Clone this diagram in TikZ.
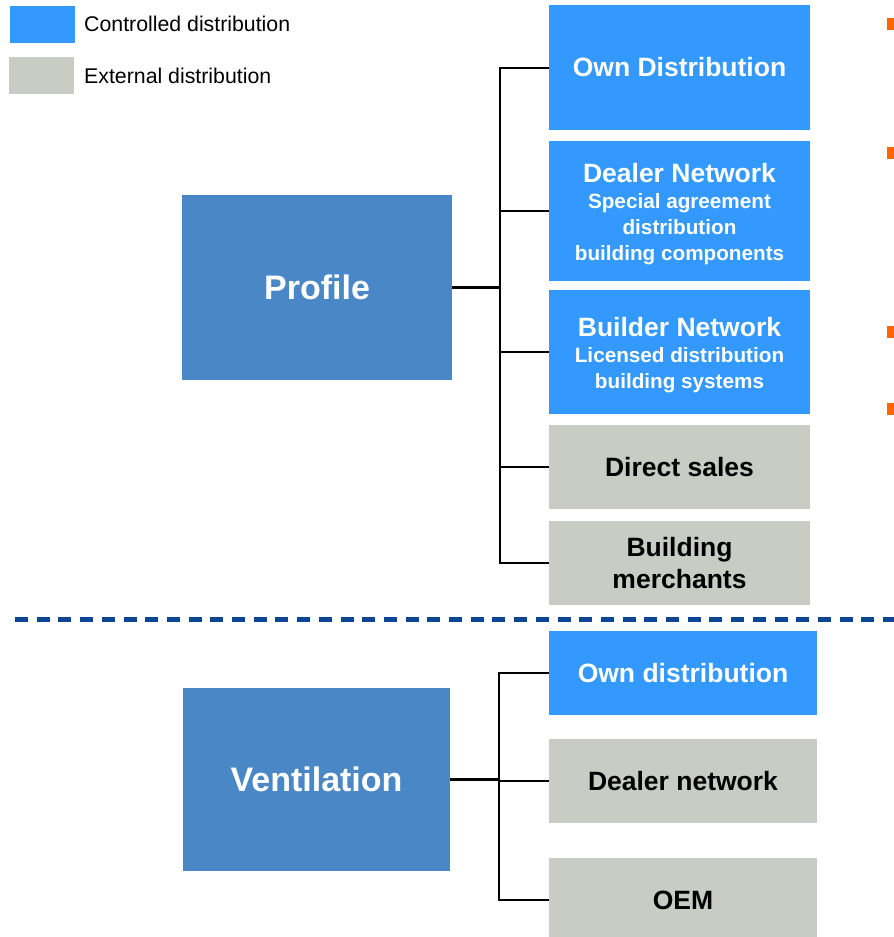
\documentclass[tikz,border=0pt]{standalone}
\usepackage{fontspec}
\setmainfont{Liberation Sans}
\definecolor{ctrlblue}{HTML}{3399FF}
\definecolor{extgray}{HTML}{C8CCC5}
\definecolor{mainblue}{HTML}{4A87C6}
\definecolor{sepblue}{HTML}{0A4694}
\definecolor{markorange}{HTML}{FF6600}
\tikzset{
  box/.style={rectangle, inner sep=0pt, draw=none, align=center, font=\bfseries\fontsize{26.5}{26}\selectfont},
  ctrl/.style={box, fill=ctrlblue, text=white},
  ext/.style={box, fill=extgray, text=black},
  main/.style={box, fill=mainblue, text=white, font=\bfseries\fontsize{34}{34}\selectfont},
  legbox/.style={rectangle, inner sep=0pt, draw=none},
  legtext/.style={anchor=west, inner sep=0pt, font=\fontsize{21.3}{21}\selectfont},
  tick/.style={line width=2pt, black},
  stub/.style={line width=3pt, black},
  sepline/.style={line width=5pt, sepblue, dash pattern=on 13pt off 8.7pt},
  orangemark/.style={rectangle, inner sep=0pt, draw=none, fill=markorange, minimum width=8pt, minimum height=12pt}
}
\begin{document}
\begin{tikzpicture}[x=1pt,y=-1pt]
\clip (0,0) rectangle (894,937);
\fill[white] (0,0) rectangle (894,937);
% legend
\node[legbox, fill=ctrlblue, minimum width=65pt, minimum height=37pt] (lc) at (42.5,24.5) {};
\node[legbox, fill=extgray, minimum width=65pt, minimum height=37pt] (le) at (41.5,75.5) {};
\node[legtext] (lct) at (84,24) {Controlled distribution};
\node[legtext] (let) at (84,76) {External distribution};
% main boxes
\node[main, minimum width=270pt, minimum height=185pt] (prof) at (317,287) {Profile};
\node[main, minimum width=267pt, minimum height=183pt] (vent) at (316.5,779.5) {Ventilation};
% profile channels
\node[ctrl, minimum width=261pt, minimum height=125pt] (own) at (679.5,67.5) {Own Distribution};
\node[ctrl, minimum width=261pt, minimum height=140pt] (deal) at (679.5,211) {\rule{0pt}{26pt}Dealer Network\\[0pt]{\fontsize{20.7}{26}\selectfont Special agreement}\\{\fontsize{20.7}{26}\selectfont distribution}\\{\fontsize{20.7}{26}\selectfont building components}};
\node[ctrl, minimum width=261pt, minimum height=124pt] (build) at (679.5,352) {\rule{0pt}{26pt}Builder Network\\[0pt]{\fontsize{20.7}{26}\selectfont Licensed distribution}\\{\fontsize{20.7}{26}\selectfont building systems}};
\node[ext, minimum width=261pt, minimum height=84pt] (direct) at (679.5,467) {Direct sales};
\node[ext, minimum width=261pt, minimum height=84pt, font=\bfseries\fontsize{26.5}{32}\selectfont] (merch) at (679.5,563) {Building\\merchants};
% ventilation channels
\node[ctrl, minimum width=268pt, minimum height=84pt] (vown) at (683,673) {Own distribution};
\node[ext, minimum width=268pt, minimum height=84pt] (vdeal) at (683,781) {Dealer network};
\node[ext, minimum width=268pt, minimum height=84pt] (oem) at (683,900) {OEM};
% junctions
\coordinate (pj) at (500,287);
\coordinate (vj) at (499,780);
\draw[stub] (prof.east) -- (pj);
\draw[tick] (own.west) -| (merch.west -| pj) -- (merch.west);
\draw[tick] (deal.west) -- (deal.west -| pj);
\draw[tick] (build.west) -- (build.west -| pj);
\draw[tick] (direct.west) -- (direct.west -| pj);
\draw[stub] (vent.east) -- (vent.east -| vj);
\draw[tick] (vown.west) -| (oem.west -| vj) -- (oem.west);
\draw[tick] (vdeal.west) -- (vdeal.west -| vj);
% separator
\coordinate (ds) at (15,619.5);
\coordinate (de) at (900,619.5);
\draw[sepline] (ds) -- (de);
% orange marks
\node[orangemark] (m1) at (891,24) {};
\node[orangemark] (m2) at (891,153) {};
\node[orangemark] (m3) at (891,332) {};
\node[orangemark] (m4) at (891,409) {};
\end{tikzpicture}
\end{document}
